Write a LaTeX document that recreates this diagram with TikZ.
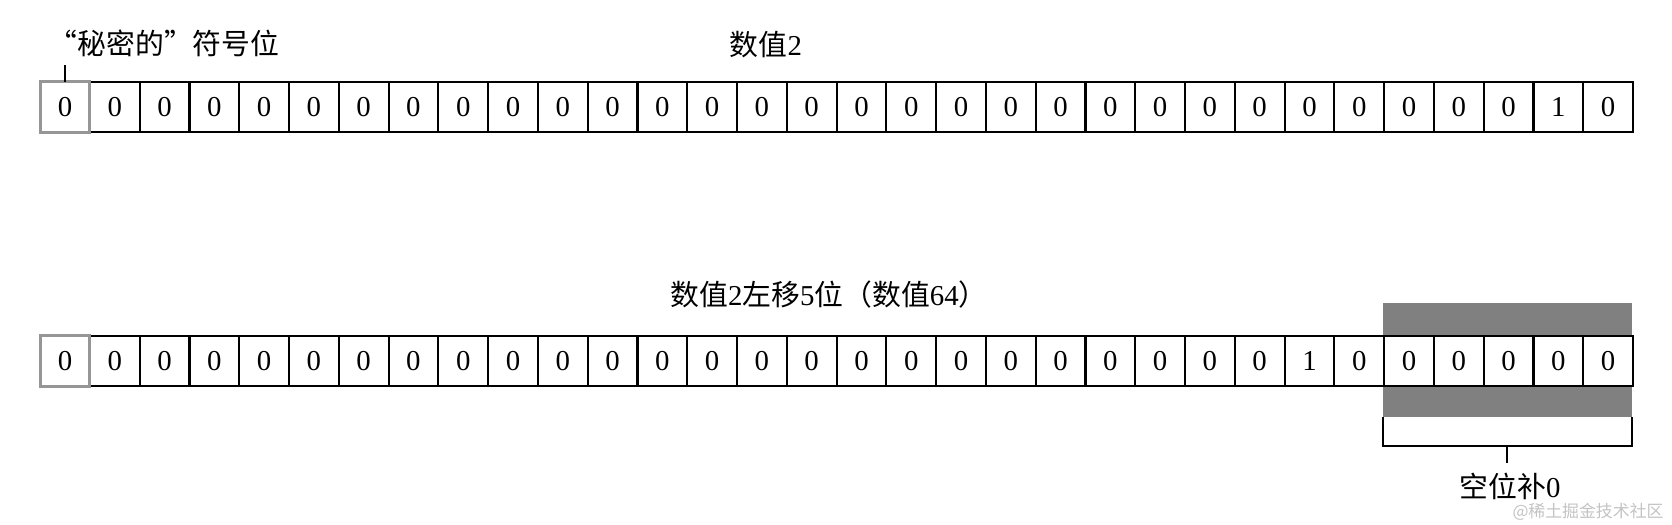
\documentclass[tikz,border=0pt]{standalone}
\usepackage{fontspec}
\setmainfont{Liberation Serif}
\newfontfamily\cjk{Noto Sans CJK SC}
\usepackage{xcolor}
\usepackage{tikz}
\usetikzlibrary{positioning}
\newcommand{\zh}[1]{{\cjk #1}}
\definecolor{band}{RGB}{128,128,128}
\definecolor{signgray}{RGB}{150,150,150}
\definecolor{wmgray}{RGB}{195,195,195}

\begin{document}
\begin{tikzpicture}[x=0.01cm,y=-0.01cm,line width=0.6pt,font=\fontsize{8.2}{9}\selectfont]
	\tikzstyle{cell}=[draw, rectangle, fill=white, minimum width=0.4975cm, minimum height=0.5cm, inner sep=0pt, outer sep=0pt]
	\useasboundingbox (0,0) rectangle (1672,524);
	% grey band behind the filled bits
	\fill[band] (1383,303) rectangle (1632,417);

	% value 2
	\node[cell] (t1) at (65,107) {0};
	\foreach \i [remember=\i as \p (initially 1)] in {2,...,32}{
		\ifnum\i=31 \def\bit{1}\else\def\bit{0}\fi
		\node[cell, right=0pt of t\p] (t\i) {\bit};
	}
	\draw[signgray, line width=0.85pt] (t1.south west) rectangle (t1.north east);

	% value 2 shifted left by 5
	\node[cell] (s1) at (65,361) {0};
	\foreach \i [remember=\i as \p (initially 1)] in {2,...,32}{
		\ifnum\i=26 \def\bit{1}\else\def\bit{0}\fi
		\node[cell, right=0pt of s\p] (s\i) {\bit};
	}
	\draw[signgray, line width=0.85pt] (s1.south west) rectangle (s1.north east);

	% labels
	\node[anchor=west] (signlbl) at (36,43) {\zh{“秘密的”符号位}};
	\coordinate (tick) at (65,65);
	\draw (t1.north) -- (tick);
	\node (val) at (766,45) {\zh{数值}2};
	\node (shift) at (829,295) {\zh{数值}2\zh{左移}5\zh{位（数值}64\zh{）}};

	% bracket
	\coordinate (bl) at (1383,417);
	\coordinate (br) at (1632,417);
	\coordinate (bm) at (1507,446);
	\coordinate (bt) at (1507,463);
	\draw (bl) |- (br |- bm) -- (br);
	\draw (bm) -- (bt);
	\node[inner sep=1pt] (pad) at (1510,486) {\zh{空位补}0};
	\node[wmgray, inner sep=0pt, font=\fontsize{4.8}{5}\selectfont] (wm) at (1588,512) {\zh{@稀土掘金技术社区}};
\end{tikzpicture}
\end{document}
